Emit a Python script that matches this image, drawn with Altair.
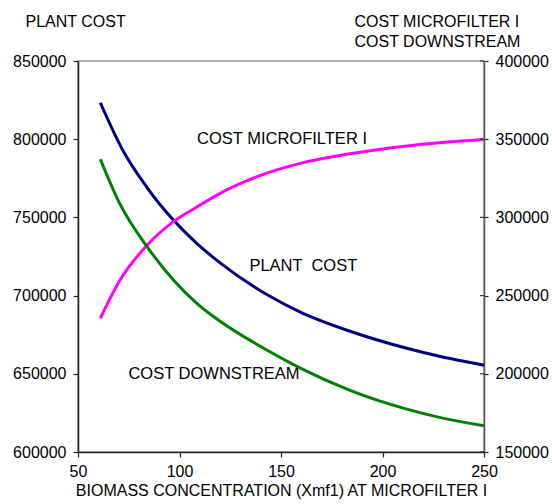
import altair as alt
import pandas as pd

# X positions (biomass concentration) and read-off values
X_PLANT = [61, 72, 84, 97, 108.5, 120, 143, 159.5, 184, 212, 228, 250]
PLANT = [823300, 793100, 769100, 748300, 733350, 720930, 700690, 689470,
         677220, 666300, 661180, 655460]

X_RIGHT = [61, 70.5, 84, 97, 108.5, 120, 143, 159.5, 184, 212, 228, 250]
MICRO = [235500, 259500, 282200, 297300, 306600, 315400, 328280, 334550,
         340675, 345715, 347795, 349885]
DOWN = [337200, 309000, 281300, 260000, 245100, 233600, 215200, 203650,
        189440, 177400, 172120, 166730]

X_TICKS = [50, 100, 150, 200, 250]
LEFT_TICKS = [600000, 650000, 700000, 750000, 800000, 850000]
RIGHT_TICKS = [150000, 200000, 250000, 300000, 350000, 400000]

LABEL_TEXT = ["COST MICROFILTER I", "PLANT \u00a0COST", "COST DOWNSTREAM"]
LABEL_X = [150.5, 161, 117]
LABEL_V = [800000, 719000, 650000]

FONT = "Liberation Sans"
W, H = 406, 391

plant_df = pd.DataFrame({"x": X_PLANT, "v": PLANT})
right_df = pd.concat([
    pd.DataFrame({"x": X_RIGHT, "v": MICRO, "s": "COST MICROFILTER I"}),
    pd.DataFrame({"x": X_RIGHT, "v": DOWN, "s": "COST DOWNSTREAM"}),
])
label_df = pd.DataFrame({"x": LABEL_X, "v": LABEL_V, "t": LABEL_TEXT})
stub_df = pd.DataFrame({"v": RIGHT_TICKS})

xscale = alt.Scale(domain=[50, 250], nice=False, zero=False)
lscale = alt.Scale(domain=[600000, 850000], nice=False, zero=False)
rscale = alt.Scale(domain=[150000, 400000], nice=False, zero=False)

x_axis = alt.Axis(values=X_TICKS, title="BIOMASS CONCENTRATION (Xmf1) AT MICROFILTER I",
                  tickSize=5, labelPadding=6, titlePadding=3, grid=False,
                  labelFlush=False)
left_axis = alt.Axis(values=LEFT_TICKS, format="d", title="PLANT COST", tickSize=5,
                     labelPadding=7, grid=False, titleAngle=0, titleAlign="left",
                     titleBaseline="alphabetic", titleX=-53, titleY=-35,
                     labelFlush=False)
right_axis = alt.Axis(values=RIGHT_TICKS, format="d", orient="right",
                      title=["COST MICROFILTER I", "COST DOWNSTREAM"], tickSize=4,
                      labelPadding=7, grid=False, titleAngle=0, titleAlign="left",
                      titleBaseline="alphabetic", titleX=-130, titleY=-35,
                      titleLineHeight=20, domainColor="#555555", labelFlush=False)

plant_line = alt.Chart(plant_df).mark_line(
    color="#000080", strokeWidth=3, interpolate="monotone"
).encode(
    x=alt.X("x:Q", scale=xscale, axis=x_axis),
    y=alt.Y("v:Q", scale=lscale, axis=left_axis),
)

labels = alt.Chart(label_df).mark_text(
    font=FONT, fontSize=16.5, color="black", align="center", baseline="middle"
).encode(
    x=alt.X("x:Q", scale=xscale, axis=x_axis),
    y=alt.Y("v:Q", scale=lscale, axis=left_axis),
    text="t:N",
)

right_lines = alt.Chart(right_df).mark_line(
    strokeWidth=3, interpolate="monotone"
).encode(
    x=alt.X("x:Q", scale=xscale, axis=x_axis),
    y=alt.Y("v:Q", scale=rscale, axis=right_axis),
    color=alt.Color("s:N", scale=alt.Scale(
        domain=["COST MICROFILTER I", "COST DOWNSTREAM"],
        range=["#FF00FF", "#008000"]), legend=None),
    detail="s:N",
)

stubs = alt.Chart(stub_df).mark_rule(color="#333333", strokeWidth=1.2).encode(
    y=alt.Y("v:Q", scale=rscale, axis=right_axis),
    x=alt.value(W - 4),
    x2=alt.value(W),
)

left_group = alt.layer(plant_line, labels)
right_group = alt.layer(right_lines, stubs)

chart = alt.layer(left_group, right_group).resolve_scale(
    y="independent"
).properties(
    width=W, height=H,
    autosize=alt.AutoSizeParams(type="none"),
    padding={"left": 78, "top": 61, "right": 68, "bottom": 52},
).configure_view(
    stroke="#999999", strokeWidth=1.5
).configure_axis(
    labelFont=FONT, titleFont=FONT, labelFontSize=16, titleFontSize=16,
    labelColor="black", titleColor="black", titleFontWeight="normal",
    domainColor="#222222", tickColor="#222222", domainWidth=1.5, tickWidth=1.2,
)

chart.save("out.html", embed_options={"renderer": "svg", "actions": False})
